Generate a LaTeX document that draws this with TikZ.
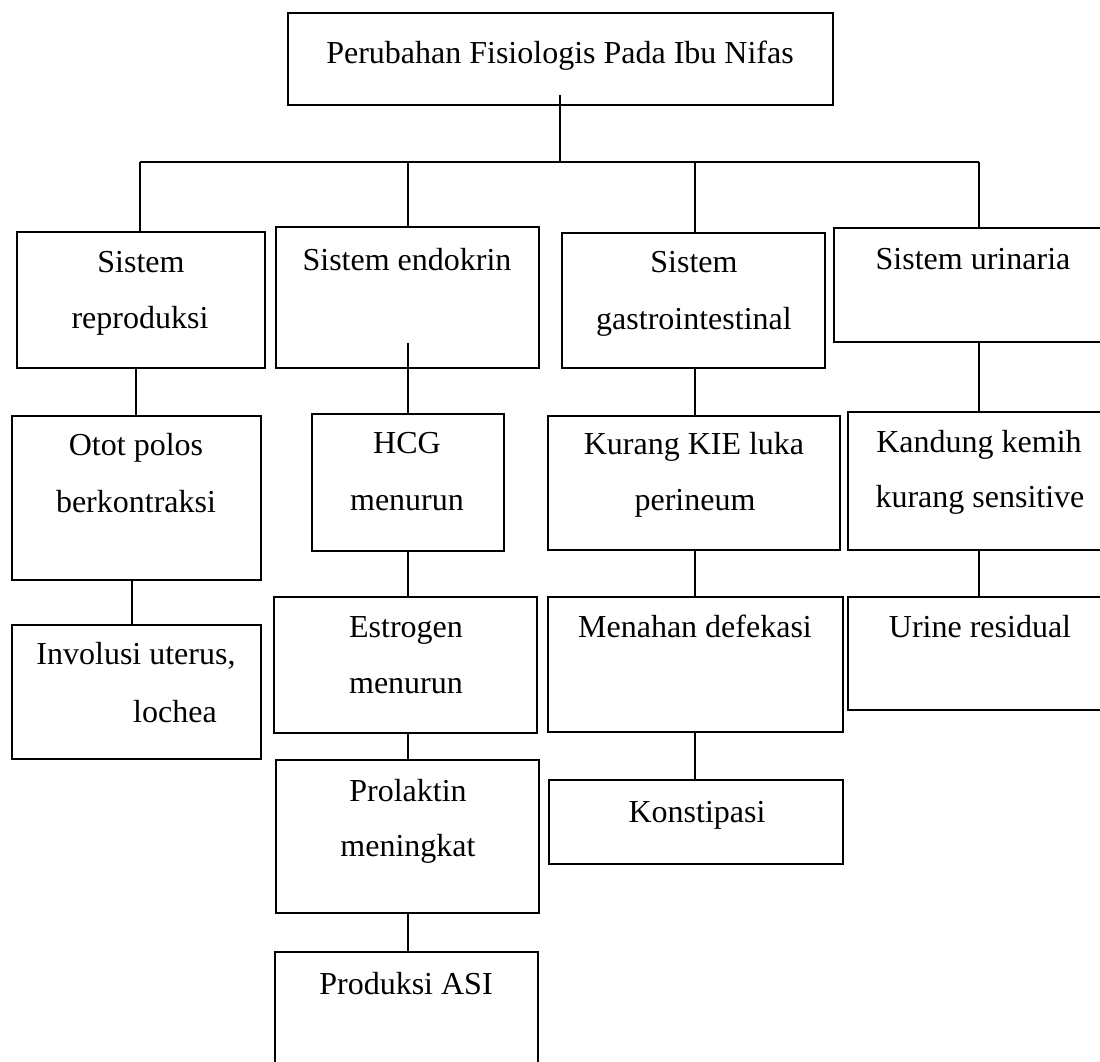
\documentclass[tikz,border=0pt]{standalone}
\usepackage{fontspec}
\setmainfont{Liberation Serif}
\begin{document}
\begin{tikzpicture}[x=1pt,y=-1pt,
  bx/.style={draw,line width=1.4pt,inner sep=0pt,rectangle},
  lbl/.style={anchor=base,inner sep=0pt,font=\fontsize{32}{38}\selectfont},
  conn/.style={line width=1.3pt}]
\fill[white] (0,0) rectangle (1100,1061);
\useasboundingbox (0,0) rectangle (1100,1061);
\newcommand\bx[5]{\node[bx,minimum width=#4pt,minimum height=#5pt] (#1) at (#2,#3) {};}
% boxes
\bx{top}{560.5}{59}{545}{92}
\bx{rep}{141}{300}{248}{136}
\bx{endo}{407.5}{297.5}{263}{141}
\bx{gas}{693.5}{300.5}{263}{135}
\bx{uri}{972}{285}{276}{114}
\bx{otot}{136.5}{498}{249}{164}
\bx{hcg}{408}{482.5}{192}{137}
\bx{kie}{694}{483}{292}{134}
\bx{kan}{979}{481}{262}{138}
\bx{inv}{136.5}{692}{249}{134}
\bx{est}{405.5}{665}{263}{136}
\bx{men}{695.5}{664.5}{295}{135}
\bx{urine}{979}{653.5}{262}{113}
\bx{pro}{407.5}{836.5}{263}{153}
\bx{kon}{696}{822}{294}{84}
\bx{asi}{406.5}{1013.5}{263}{123}
% texts
\node[lbl] (t-top) at (560,63) {Perubahan Fisiologis Pada Ibu Nifas};
\node[lbl] (t-rep1) at (141,272) {Sistem};
\node[lbl] (t-rep2) at (140,328) {reproduksi};
\node[lbl] (t-endo) at (407,270) {Sistem endokrin};
\node[lbl] (t-gas1) at (694,272) {Sistem};
\node[lbl] (t-gas2) at (694,329) {gastrointestinal};
\node[lbl] (t-uri) at (973,269) {Sistem urinaria};
\node[lbl] (t-otot1) at (136,455) {Otot polos};
\node[lbl] (t-otot2) at (136,512) {berkontraksi};
\node[lbl] (t-hcg1) at (407,453) {HCG};
\node[lbl] (t-hcg2) at (407,510) {menurun};
\node[lbl] (t-kie1) at (694,454) {Kurang KIE luka};
\node[lbl] (t-kie2) at (695,510) {perineum};
\node[lbl] (t-kan1) at (979,452) {Kandung kemih};
\node[lbl] (t-kan2) at (980,507) {kurang sensitive};
\node[lbl] (t-inv1) at (136,664) {Involusi uterus,};
\node[lbl,anchor=base west] (t-inv2) at (133,722) {lochea};
\node[lbl] (t-est1) at (406,637) {Estrogen};
\node[lbl] (t-est2) at (406,693) {menurun};
\node[lbl] (t-men) at (695,637) {Menahan defekasi};
\node[lbl] (t-urine) at (980,637) {Urine residual};
\node[lbl] (t-kon) at (697,822) {Konstipasi};
\node[lbl] (t-pro1) at (408,801) {Prolaktin};
\node[lbl] (t-pro2) at (408,856) {meningkat};
\node[lbl] (t-asi) at (406,994) {Produksi ASI};
% connector coordinates
\coordinate (topin) at (560,95);
\coordinate (bus) at (560,162);
\coordinate (busL) at (140,162);
\coordinate (busR) at (979,162);
\coordinate (x408) at (408,0);
\coordinate (x695) at (695,0);
\coordinate (x979) at (979,0);
\coordinate (x136) at (136,0);
\coordinate (x132) at (132,0);
\coordinate (endoin) at (408,343);
% connectors
\draw[conn] (topin) -- (bus);
\draw[conn] (busL) -- (busR);
\draw[conn] (busL) -- (busL |- rep.north);
\draw[conn] (x408 |- bus) -- (x408 |- endo.north);
\draw[conn] (x695 |- bus) -- (x695 |- gas.north);
\draw[conn] (busR) -- (x979 |- uri.north);
\draw[conn] (x136 |- rep.south) -- (x136 |- otot.north);
\draw[conn] (endoin) -- (x408 |- hcg.north);
\draw[conn] (x695 |- gas.south) -- (x695 |- kie.north);
\draw[conn] (x979 |- uri.south) -- (x979 |- kan.north);
\draw[conn] (x132 |- otot.south) -- (x132 |- inv.north);
\draw[conn] (x408 |- hcg.south) -- (x408 |- est.north);
\draw[conn] (x695 |- kie.south) -- (x695 |- men.north);
\draw[conn] (x979 |- kan.south) -- (x979 |- urine.north);
\draw[conn] (x408 |- est.south) -- (x408 |- pro.north);
\draw[conn] (x695 |- men.south) -- (x695 |- kon.north);
\draw[conn] (x408 |- pro.south) -- (x408 |- asi.north);
\end{tikzpicture}
\end{document}
